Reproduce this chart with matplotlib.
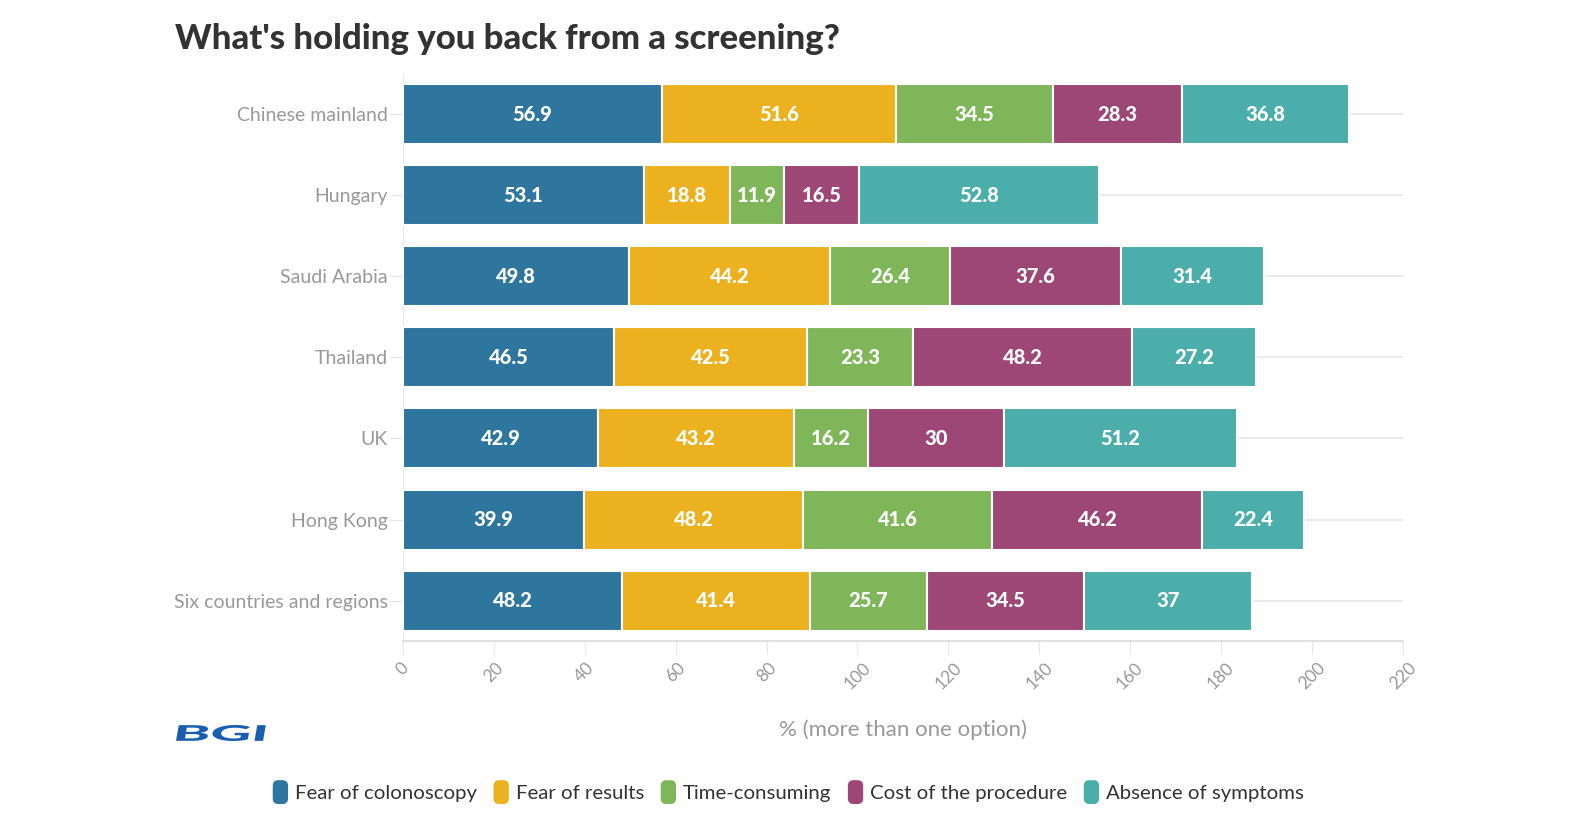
import matplotlib
matplotlib.use("Agg")
import matplotlib.pyplot as plt
import numpy as np
from matplotlib.patches import Patch, FancyBboxPatch, PathPatch
from matplotlib.legend_handler import HandlerPatch
from matplotlib.textpath import TextPath
from matplotlib.font_manager import FontProperties
from matplotlib.transforms import Affine2D, IdentityTransform

plt.rcParams['font.family'] = ['Lato', 'DejaVu Sans']

categories = ["Chinese mainland", "Hungary", "Saudi Arabia", "Thailand", "UK",
              "Hong Kong", "Six countries and regions"]
series_names = ["Fear of colonoscopy", "Fear of results", "Time-consuming",
                "Cost of the procedure", "Absence of symptoms"]
fear_colonoscopy = [56.9, 53.1, 49.8, 46.5, 42.9, 39.9, 48.2]
fear_results = [51.6, 18.8, 44.2, 42.5, 43.2, 48.2, 41.4]
time_consuming = [34.5, 11.9, 26.4, 23.3, 16.2, 41.6, 25.7]
cost_procedure = [28.3, 16.5, 37.6, 48.2, 30, 46.2, 34.5]
absence_symptoms = [36.8, 52.8, 31.4, 27.2, 51.2, 22.4, 37]
series = [fear_colonoscopy, fear_results, time_consuming, cost_procedure, absence_symptoms]
colors = ["#2f769e", "#ecb11f", "#80b65a", "#9d4777", "#4baeab"]
x_ticks = list(range(0, 221, 20))

fig = plt.figure(figsize=(15.96, 8.36), dpi=100)
ax = fig.add_axes([0.2525, 0.233, 0.6265, 0.679])

y = np.arange(len(categories))
left = np.zeros(len(categories))
for name, vals, c in zip(series_names, series, colors):
    vals = np.array(vals, dtype=float)
    ax.barh(y, vals, left=left, height=0.74, color=c, edgecolor='white',
            linewidth=1.5, label=name, zorder=3)
    for yi, l, v in zip(y, left, vals):
        ax.text(l + v / 2, yi, f"{v:g}", ha='center', va='center', color='white',
                fontsize=14.5, fontweight='black', zorder=4)
    left += vals

ax.set_ylim(len(categories) - 0.5, -0.5)
ax.set_xlim(0, 220)
ax.set_yticks(y)
ax.set_yticklabels(categories, fontsize=14, color='#999999')
ax.set_xticks(x_ticks)
ax.set_xticklabels([str(t) for t in x_ticks], rotation=45, fontsize=12.5, color='#999999')
ax.tick_params(axis='y', length=10, color='#e6e6e6', pad=1)
ax.tick_params(axis='x', length=9, color='#e6e6e6', pad=4)
ax.grid(axis='y', color='#e6e6e6', linewidth=1.2, zorder=0)
for s in ['top', 'right']:
    ax.spines[s].set_visible(False)
ax.spines['left'].set_color('#e6e6e6')
ax.spines['bottom'].set_color('#e0e0e0')
ax.spines['bottom'].set_linewidth(1.5)
ax.set_xlabel("% (more than one option)", fontsize=16, color='#999999', labelpad=20)

fig.text(0.1095, 0.953, "What's holding you back from a screening?", fontsize=25,
         fontweight='black', color='#333333', ha='left', va='center')

# BGI logo drawn as stretched text path (pixel coordinates)
tp = TextPath((0, 0), "BGI", size=1, prop=FontProperties(family='Lato', weight='black'))
ext = tp.get_extents()
x0, y0, x1, y1 = 178, 95, 265, 111
tr = (Affine2D().translate(-ext.x0, -ext.y0)
      .scale((x1 - x0) / ext.width, (y1 - y0) / ext.height)
      .skew_deg(10, 0).translate(x0 - 2, y0))
logo = PathPatch(tr.transform_path(tp), transform=IdentityTransform(),
                 fc='#1a5eb0', ec='none')
fig.patches.append(logo)


class RoundHandler(HandlerPatch):
    def create_artists(self, legend, orig_handle, xdescent, ydescent, width, height,
                       fontsize, trans):
        p = FancyBboxPatch((-xdescent, -ydescent - 2), width, height + 4,
                           boxstyle="round,pad=0,rounding_size=4",
                           fc=orig_handle.get_facecolor(), ec='none', transform=trans)
        return [p]


handles = [Patch(facecolor=c, label=n) for n, c in zip(series_names, colors)]
fig.legend(handles=handles, loc='center', bbox_to_anchor=(0.494, 0.052), ncol=5,
           frameon=False, fontsize=14.7, handlelength=0.75, handleheight=1.0,
           handletextpad=0.35, columnspacing=0.8, labelcolor='#333333',
           handler_map={Patch: RoundHandler()})

fig.savefig("out.png", dpi=100)
